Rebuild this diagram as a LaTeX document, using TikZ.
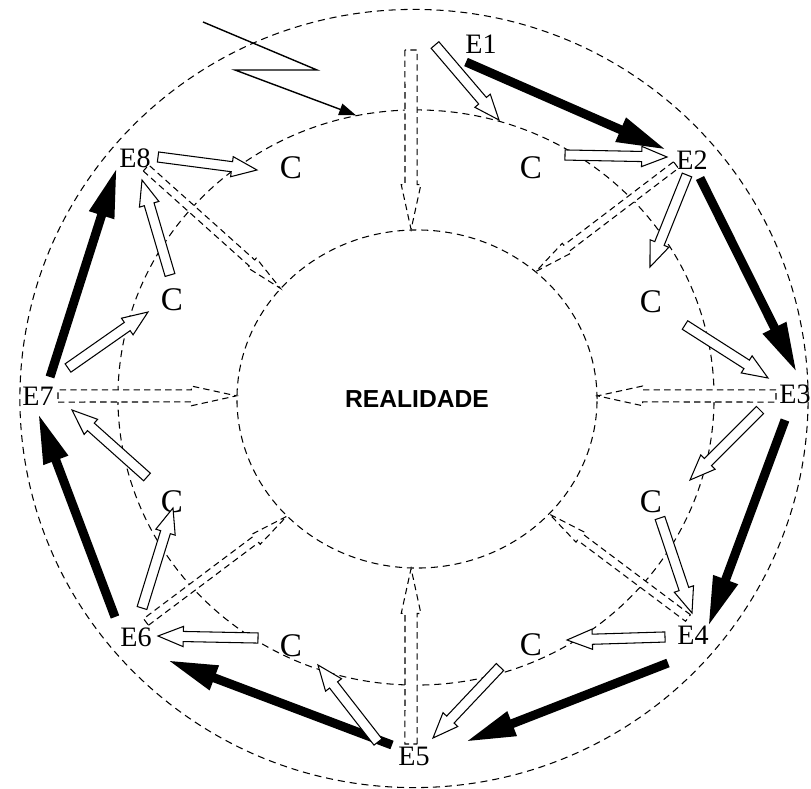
\documentclass[tikz,border=0pt]{standalone}
\usepackage{fontspec}
\setmainfont{Liberation Serif}
\setsansfont{Liberation Sans}
\usetikzlibrary{arrows.meta, calc, shapes.geometric}
\definecolor{ink}{RGB}{0,0,0}

\begin{document}
\begin{tikzpicture}[
    x=0.025cm, y=-0.025cm,
    ring/.style={ellipse, draw=ink, line width=0.75pt, dash pattern=on 5pt off 3.5pt, inner sep=0pt},
    elabel/.style={font=\fontsize{20}{24}\selectfont, text=ink, inner sep=0pt},
    clabel/.style={font=\fontsize{23.5}{28}\selectfont, text=ink, inner sep=0pt},
    harrow/.style n args={3}{draw=ink, fill=white, line width=0.75pt, line join=miter,
      to path={($(\tikztostart)!#1!-90:(\tikztotarget)$)
        -- ($(\tikztotarget)!#3!(\tikztostart)!#1!90:(\tikztostart)$)
        -- ($(\tikztotarget)!#3!(\tikztostart)!#2!90:(\tikztostart)$)
        -- (\tikztotarget)
        -- ($(\tikztotarget)!#3!(\tikztostart)!#2!-90:(\tikztostart)$)
        -- ($(\tikztotarget)!#3!(\tikztostart)!#1!-90:(\tikztostart)$)
        -- ($(\tikztostart)!#1!90:(\tikztotarget)$) -- cycle}},
    hollow/.style={harrow={3.6pt}{7.2pt}{18pt}},
    ghost/.style={harrow={4.3pt}{7pt}{32pt}, dash pattern=on 4.5pt off 3pt},
    ghostdiag/.style={harrow={2.9pt}{4.6pt}{27pt}, dash pattern=on 4.5pt off 3pt},
    heavy/.style={draw=ink, line width=6.4pt, -{Triangle[length=36pt, width=17pt]}},
    bolt/.style={draw=ink, line width=1pt, -{Triangle[length=12pt, width=8.5pt]}}
  ]
  \useasboundingbox (0,0) rectangle (811,789);

  % the three rings
  \node[ring, minimum width=19.7cm, minimum height=19.45cm] (outer) at (414,398.5) {};
  \node[ring, minimum width=14.9cm, minimum height=14.375cm] (mid) at (416,397.5) {};
  \node[ring, minimum width=9cm, minimum height=8.45cm,
        font=\sffamily\bfseries\fontsize{17.5}{21}\selectfont] (real) at (417,399) {REALIDADE};

  % stages
  \node[elabel] (e1) at (481,44) {E1};
  \node[elabel] (e2) at (692,160) {E2};
  \node[elabel] (e3) at (795,394) {E3};
  \node[elabel] (e4) at (693,635) {E4};
  \node[elabel] (e5) at (414,756) {E5};
  \node[elabel] (e6) at (136,637) {E6};
  \node[elabel] (e7) at (38,396) {E7};
  \node[elabel] (e8) at (135,158) {E8};

  \node[clabel] (c1) at (531,168) {C};
  \node[clabel] (c2) at (651,302) {C};
  \node[clabel] (c3) at (651,502) {C};
  \node[clabel] (c4) at (531,645) {C};
  \node[clabel] (c5) at (291,646) {C};
  \node[clabel] (c6) at (172,502) {C};
  \node[clabel] (c7) at (172,300) {C};
  \node[clabel] (c8) at (291,168) {C};

  % entry
  \coordinate (spark) at (203,22);
  \draw[bolt] (spark) -- (317,70) -- (235,70) -- (mid.102);

  % dashed arrows into the reality
  \draw[ghost] ([shift={(-70,6)}]e1.center) to (real.92);
  \draw[ghost] ([shift={(-19,2)}]e3.center) to (real.1);
  \draw[ghost] ([shift={(-3,-12)}]e5.center) to (real.268);
  \draw[ghost] ([shift={(20,0)}]e7.center) to (real.179);
  \draw[ghostdiag] ([shift={(-16,5)}]e2.center) to (real.47);
  \draw[ghostdiag] ([shift={(-5,-17)}]e4.center) to (real.-41);
  \draw[ghostdiag] ([shift={(10,-15)}]e6.center) to (real.-138);
  \draw[ghostdiag] ([shift={(11,10)}]e8.center) to (real.141);

  % stage to stage
  \draw[heavy] ([shift={(-15,18)}]e1.center) -- ([shift={(-25,-10)}]e2.center);
  \draw[heavy] ([shift={(8,18)}]e2.center) -- ([shift={(2,-21)}]e3.center);
  \draw[heavy] ([shift={(-10,26)}]e3.center) -- ([shift={(15,-8)}]e4.center);
  \draw[heavy] ([shift={(-25,28)}]e4.center) -- ([shift={(51,-14)}]e5.center);
  \draw[heavy] ([shift={(-22,-11)}]e5.center) -- ([shift={(31,23)}]e6.center);
  \draw[heavy] ([shift={(-21,-20)}]e6.center) -- ([shift={(0,17)}]e7.center);
  \draw[heavy] ([shift={(12,-19)}]e7.center) -- ([shift={(-18,9)}]e8.center);

  % stage to C and back
  \draw[hollow] ([shift={(-46,1)}]e1.center) to ([shift={(-32,-48)}]c1.center);
  \draw[hollow] ([shift={(34,-13)}]c1.center) to ([shift={(-25,-3)}]e2.center);
  \draw[hollow] ([shift={(-5,15)}]e2.center) to ([shift={(-1,-35)}]c2.center);
  \draw[hollow] ([shift={(34,23)}]c2.center) to ([shift={(-27,-16)}]e3.center);
  \draw[hollow] ([shift={(-35,16)}]e3.center) to ([shift={(39,-22)}]c3.center);
  \draw[hollow] ([shift={(9,16)}]c3.center) to ([shift={(-1,-22)}]e4.center);
  \draw[hollow] ([shift={(-28,2)}]e4.center) to ([shift={(36,-5)}]c4.center);
  \draw[hollow] ([shift={(-31,22)}]c4.center) to ([shift={(19,-18)}]e5.center);
  \draw[hollow] ([shift={(-36,-14)}]e5.center) to ([shift={(27,19)}]c5.center);
  \draw[hollow] ([shift={(-33,-8)}]c5.center) to ([shift={(22,-1)}]e6.center);
  \draw[hollow] ([shift={(6,-29)}]e6.center) to ([shift={(1,6)}]c6.center);
  \draw[hollow] ([shift={(-25,-25)}]c6.center) to ([shift={(34,14)}]e7.center);
  \draw[hollow] ([shift={(30,-28)}]e7.center) to ([shift={(-24,12)}]c7.center);
  \draw[hollow] ([shift={(-2,-25)}]c7.center) to ([shift={(7,22)}]e8.center);
  \draw[hollow] ([shift={(23,-1)}]e8.center) to ([shift={(-34,2)}]c8.center);
\end{tikzpicture}
\end{document}
